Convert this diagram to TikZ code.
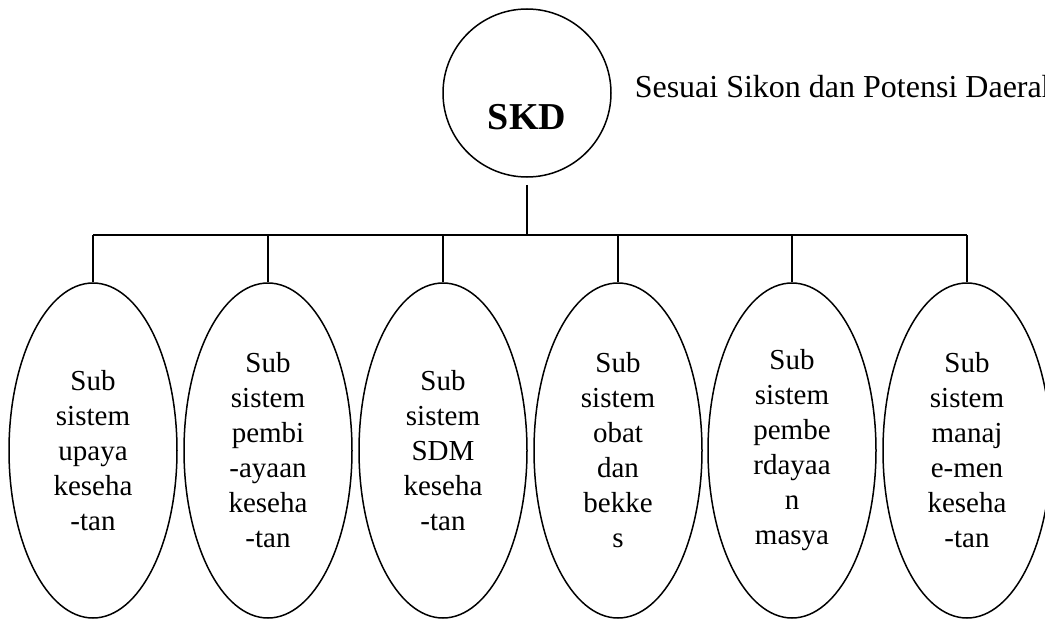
\documentclass[tikz,border=0pt]{standalone}
\usepackage{fontspec}
\setmainfont{Liberation Serif}
\usetikzlibrary{shapes.geometric}
\begin{document}
\begin{tikzpicture}[x=1pt,y=-1pt,
  line width=1.5pt,
  subbox/.style={draw, ellipse, minimum width=168pt, minimum height=335pt, inner sep=0pt,
    align=center, font=\fontsize{29}{35}\selectfont},
  topbox/.style={draw, circle, minimum size=168pt, inner sep=0pt}
]
\useasboundingbox (0,0) rectangle (1045,621);
\node[topbox] (skd) at (527,93) {};
\node[font=\fontsize{38}{40}\selectfont\bfseries] (skdtext) at (527,117) {SKD};
\node[anchor=base west, inner sep=0pt, font=\fontsize{32}{36}\selectfont] (note) at (634,97) {Sesuai Sikon dan Potensi Daerah};

\node[subbox] (e1) at (93,450.5) {Sub\\sistem\\upaya\\keseha\\-tan};
\node[subbox] (e2) at (268,450.5) {Sub\\sistem\\pembi\\-ayaan\\keseha\\-tan};
\node[subbox] (e3) at (443,450.5) {Sub\\sistem\\SDM\\keseha\\-tan};
\node[subbox] (e4) at (618,450.5) {Sub\\sistem\\obat\\dan\\bekke\\s};
\node[subbox] (e5) at (792,450.5) {Sub\\sistem\\pembe\\rdayaa\\n\\masya};
\node[subbox] (e6) at (967,450.5) {Sub\\sistem\\manaj\\e-men\\keseha\\-tan};

\coordinate (busL) at (93,235);
\coordinate (busR) at (967,235);
\draw (busL) -- (busR);
\draw[shorten <=7pt] (skd.south) -- (skd.south |- busL);
\foreach \i in {1,...,6} {
  \draw (e\i.north) -- (e\i.north |- busL);
}
\end{tikzpicture}
\end{document}
